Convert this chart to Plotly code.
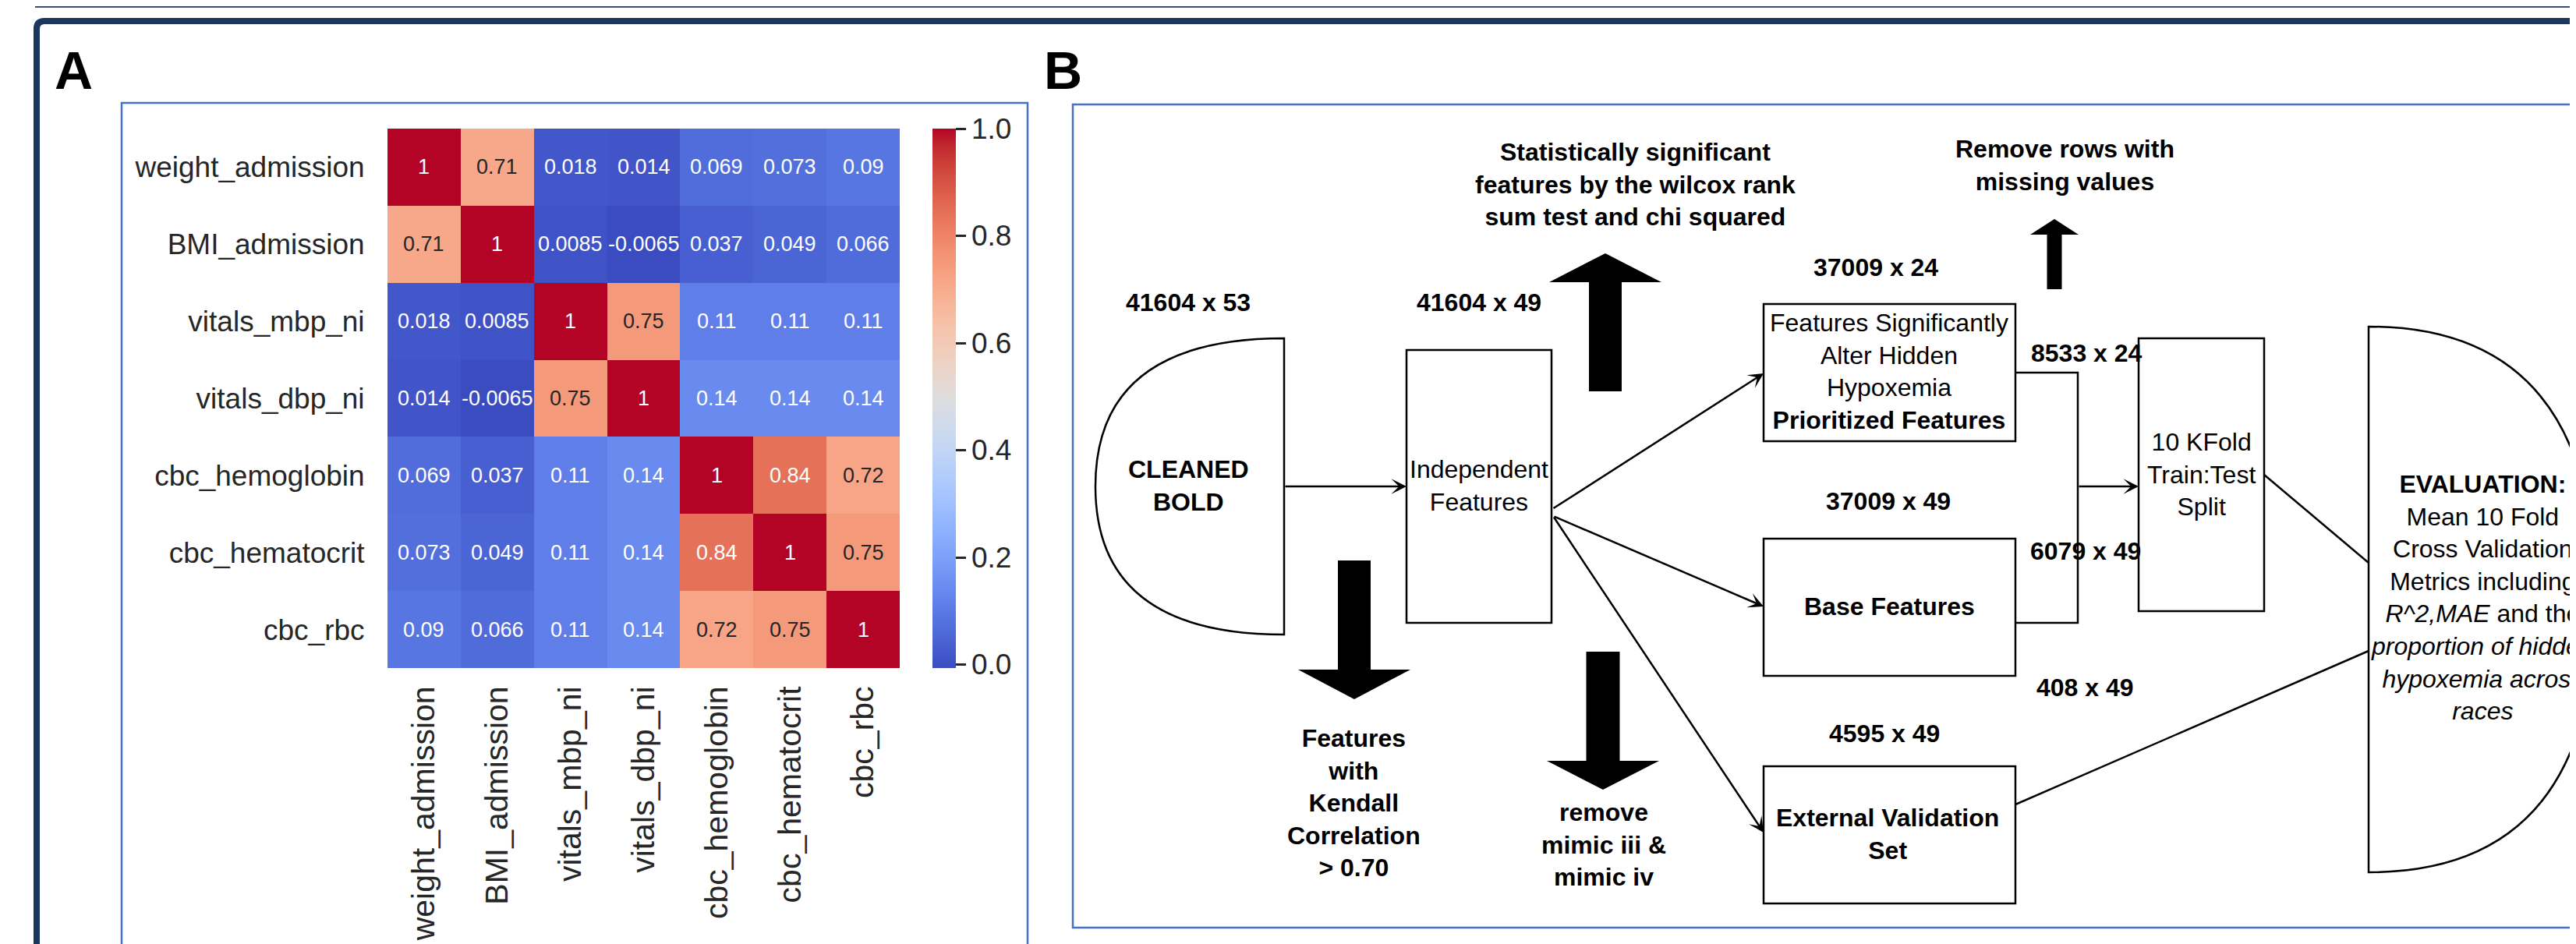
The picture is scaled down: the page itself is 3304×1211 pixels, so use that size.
import plotly.graph_objects as go

W, H = 3304, 1211
FONT = "Liberation Sans, Arial, Helvetica, sans-serif"
TXT = "#262626"

# ---------------- data ----------------
features = ["weight_admission", "BMI_admission", "vitals_mbp_ni", "vitals_dbp_ni",
            "cbc_hemoglobin", "cbc_hematocrit", "cbc_rbc"]
corr_weight_admission = [1, 0.71, 0.018, 0.014, 0.069, 0.073, 0.09]
corr_bmi_admission = [0.71, 1, 0.0085, -0.0065, 0.037, 0.049, 0.066]
corr_vitals_mbp_ni = [0.018, 0.0085, 1, 0.75, 0.11, 0.11, 0.11]
corr_vitals_dbp_ni = [0.014, -0.0065, 0.75, 1, 0.14, 0.14, 0.14]
corr_cbc_hemoglobin = [0.069, 0.037, 0.11, 0.14, 1, 0.84, 0.72]
corr_cbc_hematocrit = [0.073, 0.049, 0.11, 0.14, 0.84, 1, 0.75]
corr_cbc_rbc = [0.09, 0.066, 0.11, 0.14, 0.72, 0.75, 1]
corr_matrix = [corr_weight_admission, corr_bmi_admission, corr_vitals_mbp_ni,
               corr_vitals_dbp_ni, corr_cbc_hemoglobin, corr_cbc_hematocrit, corr_cbc_rbc]
cbar_tickvals = [0.0, 0.2, 0.4, 0.6, 0.8, 1.0]
cbar_ticktext = ["0.0", "0.2", "0.4", "0.6", "0.8", "1.0"]

panel_letters = ["A", "B"]
dim_labels = ["41604 x 53", "41604 x 49", "37009 x 24", "37009 x 49",
              "4595 x 49", "8533 x 24", "6079 x 49", "408 x 49"]
step_labels = [
    "<b>Statistically significant<br>features by the wilcox rank<br>sum test and chi squared</b>",
    "<b>Remove rows with<br>missing values</b>",
    "<b>Features<br>with<br>Kendall<br>Correlation<br>> 0.70</b>",
    "<b>remove<br>mimic iii &<br>mimic iv</b>",
]
node_labels = [
    "<b>CLEANED<br>BOLD</b>",
    "Independent<br>Features",
    "Features Significantly<br>Alter Hidden<br>Hypoxemia<br><b>Prioritized Features</b>",
    "<b>Base Features</b>",
    "<b>External Validation<br>Set</b>",
    "10 KFold<br>Train:Test<br>Split",
    "<b>EVALUATION:</b><br>Mean 10 Fold<br>Cross Validation<br>Metrics including<br>"
    "<i>R^2,MAE</i> and the<br><i>proportion of hidden</i><br><i>hypoxemia across</i><br><i>races</i>",
]

# ---------------- layout constants (pixels) ----------------
HM_X0, HM_X1, HM_Y0, HM_Y1 = 489, 1146, 157, 849
letter_pos = [(86, 82), (1355, 82)]
dim_pos = [(1516, 380), (1889, 380), (2398, 335), (2414, 635),
           (2409, 933), (2668, 445), (2667, 699), (2666, 874)]
step_pos = [(2089, 228), (2640, 204), (1728, 1022), (2049, 1075)]
node_pos = [(1516, 615), (1889, 615), (2415, 469), (2415, 770),
            (2413, 1062), (2815, 601), (3176, 758)]

# matplotlib coolwarm
_cw = [
    (0.0, (0.2298057, 0.298717966, 0.753683153)), (0.03125, (0.26623388, 0.353094838, 0.801466763)),
    (0.0625, (0.30386891, 0.406535296, 0.84495867)), (0.09375, (0.342804478, 0.458757618, 0.883725899)),
    (0.125, (0.38301334, 0.50941904, 0.917387822)), (0.15625, (0.424369608, 0.558148092, 0.945619588)),
    (0.1875, (0.46666708, 0.604562568, 0.968154911)), (0.21875, (0.509635204, 0.648280772, 0.98478814)),
    (0.25, (0.552953156, 0.688929332, 0.995375608)), (0.28125, (0.596262162, 0.726149107, 0.999836203)),
    (0.3125, (0.639176211, 0.759599947, 0.998151185)), (0.34375, (0.681291281, 0.788964712, 0.990363227)),
    (0.375, (0.722193294, 0.813952739, 0.976574709)), (0.40625, (0.761464949, 0.834302879, 0.956945269)),
    (0.4375, (0.798691636, 0.849786142, 0.931688648)), (0.46875, (0.833466556, 0.860207984, 0.901068838)),
    (0.5, (0.865395197, 0.86541021, 0.865395561)), (0.53125, (0.897787179, 0.848937047, 0.820880546)),
    (0.5625, (0.924127593, 0.827384882, 0.774508472)), (0.59375, (0.944468518, 0.800927443, 0.726736146)),
    (0.625, (0.958852946, 0.769767752, 0.678007945)), (0.65625, (0.96732803, 0.734132809, 0.628751763)),
    (0.6875, (0.969954137, 0.694266682, 0.579375448)), (0.71875, (0.966811177, 0.650421156, 0.530263762)),
    (0.75, (0.958003065, 0.602842431, 0.481775914)), (0.78125, (0.943660866, 0.551750968, 0.434243684)),
    (0.8125, (0.923944917, 0.49730856, 0.387970225)), (0.84375, (0.89904617, 0.439559467, 0.343229596)),
    (0.875, (0.869186849, 0.378313092, 0.300267182)), (0.90625, (0.834620542, 0.312874446, 0.259301199)),
    (0.9375, (0.795631745, 0.24128379, 0.220525627)), (0.96875, (0.752534934, 0.157246067, 0.184115123)),
    (1.0, (0.705673158, 0.01555616, 0.150232812)),
]
coolwarm = [[p, "rgb(%d,%d,%d)" % tuple(round(255 * c) for c in rgb)] for p, rgb in _cw]

zmin = min(min(r) for r in corr_matrix)
zmax = max(max(r) for r in corr_matrix)


def cmap(v):
    t = (v - zmin) / (zmax - zmin)
    for (p0, c0), (p1, c1) in zip(_cw[:-1], _cw[1:]):
        if p0 <= t <= p1:
            f = (t - p0) / (p1 - p0) if p1 > p0 else 0
            return [a + f * (b - a) for a, b in zip(c0, c1)]
    return list(_cw[-1][1])


def lum(rgb):
    lin = [c / 12.92 if c <= 0.03928 else ((c + 0.055) / 1.055) ** 2.4 for c in rgb]
    return 0.2126 * lin[0] + 0.7152 * lin[1] + 0.0722 * lin[2]


def px(x):
    return x / W


def py(y):
    return 1 - y / H


def path(cmds):
    out = []
    for c in cmds:
        if isinstance(c, str):
            out.append(c)
        else:
            out.append("%.5f,%.5f" % (px(c[0]), py(c[1])))
    return " ".join(out)


fig = go.Figure()
fig.add_trace(go.Heatmap(
    z=corr_matrix, x=features, y=features, colorscale=coolwarm, zmin=zmin, zmax=zmax,
    hoverinfo="skip", xgap=0, ygap=0,
    colorbar=dict(
        x=1188 / W, xanchor="left", xpad=0, y=py((HM_Y0 + HM_Y1) / 2), yanchor="middle",
        len=(HM_Y1 - HM_Y0) / H, lenmode="fraction", ypad=0, thickness=30, thicknessmode="pixels",
        outlinewidth=0, ticks="outside", ticklen=13, tickwidth=2.5, tickcolor=TXT,
        tickvals=cbar_tickvals, ticktext=cbar_ticktext,
        tickfont=dict(size=37, color=TXT, family=FONT),
    ),
))

annotations = []
# heatmap cell numbers
for i, row in enumerate(corr_matrix):
    for j, v in enumerate(row):
        col = TXT if lum(cmap(v)) > 0.408 else "white"
        annotations.append(dict(x=features[j], y=features[i], xref="x", yref="y",
                                text=f"{v:.2g}", showarrow=False,
                                font=dict(size=27, color=col, family=FONT)))

# panel letters
for lab, (x, y) in zip(panel_letters, letter_pos):
    annotations.append(dict(x=px(x), y=py(y), xref="paper", yref="paper", text=f"<b>{lab}</b>",
                            showarrow=False, xanchor="center", yanchor="middle",
                            font=dict(size=68, color="black", family=FONT)))

for lab, (x, y) in zip(dim_labels, dim_pos):
    annotations.append(dict(x=px(x), y=py(y), xref="paper", yref="paper", text=f"<b>{lab}</b>",
                            showarrow=False, xanchor="center", yanchor="middle",
                            font=dict(size=32, color="black", family=FONT)))
for lab, (x, y) in zip(step_labels + node_labels, step_pos + node_pos):
    annotations.append(dict(x=px(x), y=py(y), xref="paper", yref="paper", text=lab,
                            showarrow=False, xanchor="center", yanchor="middle", align="center",
                            font=dict(size=32, color="black", family=FONT)))

# thin connector arrows (tail, tip)
arrows = [((1639, 616), (1796, 616)), ((1983, 645), (2254, 471)),
          ((1984, 654), (2254, 770)), ((1984, 654), (2254, 1060)),
          ((2657, 616), (2735, 616))]
for (tx, ty), (hx, hy) in arrows:
    annotations.append(dict(x=px(hx), y=py(hy), xref="paper", yref="paper",
                            ax=tx - hx, ay=ty - hy, text="", showarrow=True,
                            arrowhead=3, arrowsize=1.3, arrowwidth=2.5, arrowcolor="black",
                            standoff=0, startstandoff=0))

shapes = []
NAVY = "#1b375d"
BLUE = "#4472c4"
# outer frame
shapes.append(dict(type="line", xref="paper", yref="paper", x0=px(37), x1=1.01, y0=py(0.8), y1=py(0.8),
                   line=dict(color=NAVY, width=2)))
shapes.append(dict(type="path", xref="paper", yref="paper",
                   path=path(["M", (39, 1240), "L", (39, 29), "Q", (39, 19), (49, 19), "L", (3330, 19)]),
                   line=dict(color=NAVY, width=8)))
# panel frames
shapes.append(dict(type="rect", xref="paper", yref="paper", x0=px(148), x1=px(1310), y0=py(124), y1=py(1260),
                   line=dict(color=BLUE, width=2.5)))
shapes.append(dict(type="rect", xref="paper", yref="paper", x0=px(1368), x1=px(3340), y0=py(126), y1=py(1182),
                   line=dict(color=BLUE, width=2.5)))

LW = dict(color="black", width=2.5)
# flow nodes
shapes.append(dict(type="path", xref="paper", yref="paper", line=LW,
                   path=path(["M", (1639, 426), "Q", (1397, 426), (1397, 616), "Q", (1397, 806), (1639, 806), "Z"])))
shapes.append(dict(type="path", xref="paper", yref="paper", line=LW,
                   path=path(["M", (3030, 411), "Q", (3322, 411), (3322, 761), "Q", (3322, 1111), (3030, 1111), "Z"])))
for (x0, y0, x1, y1) in [(1796, 441, 1982, 791), (2254, 382, 2577, 558), (2254, 683, 2577, 859),
                         (2254, 975, 2577, 1151), (2735, 426, 2896, 776)]:
    shapes.append(dict(type="rect", xref="paper", yref="paper", x0=px(x0), x1=px(x1), y0=py(y0), y1=py(y1),
                       line=LW))
shapes.append(dict(type="path", xref="paper", yref="paper", line=LW,
                   path=path(["M", (2577, 470), "L", (2657, 470), "L", (2657, 791), "L", (2577, 791)])))
for (x0, y0, x1, y1) in [(2896, 601, 3030, 714), (2577, 1024, 3030, 827)]:
    shapes.append(dict(type="line", xref="paper", yref="paper", x0=px(x0), y0=py(y0), x1=px(x1), y1=py(y1),
                       line=LW))


# block arrows: (center x, shaft half width, shaft end y, head base y, tip y, head half width)
def block_arrow(cx, sw, ys, yb, yt, hw):
    return path(["M", (cx - sw, ys), "L", (cx - sw, yb), "L", (cx - hw, yb), "L", (cx, yt),
                 "L", (cx + hw, yb), "L", (cx + sw, yb), "L", (cx + sw, ys), "Z"])


for args in [(2051, 21, 494, 354, 317, 72), (2627, 9.5, 363, 293, 273, 31),
             (1729, 21, 711, 851, 889, 72), (2048, 21.5, 828, 968, 1005, 72)]:
    shapes.append(dict(type="path", xref="paper", yref="paper", path=block_arrow(*args),
                       fillcolor="black", line=dict(color="black", width=0)))

fig.update_layout(
    template="none",
    width=W, height=H, margin=dict(l=0, r=0, t=0, b=0),
    paper_bgcolor="white", plot_bgcolor="white", showlegend=False,
    font=dict(family=FONT, color=TXT),
    xaxis=dict(domain=[px(HM_X0), px(HM_X1)], range=[-0.5, 6.5], anchor="y",
               tickangle=-90, ticks="outside", ticklen=6, tickcolor="rgba(0,0,0,0)",
               tickfont=dict(size=41, color=TXT, family=FONT), showgrid=False, zeroline=False,
               showline=False, automargin=False, fixedrange=True),
    yaxis=dict(domain=[py(HM_Y1), py(HM_Y0)], range=[6.5, -0.5], anchor="x",
               ticks="outside", ticklen=21, tickcolor="rgba(0,0,0,0)",
               tickfont=dict(size=37, color=TXT, family=FONT), showgrid=False, zeroline=False,
               showline=False, automargin=False, fixedrange=True),
    annotations=annotations,
    shapes=shapes,
)

fig.write_html("out.html")
